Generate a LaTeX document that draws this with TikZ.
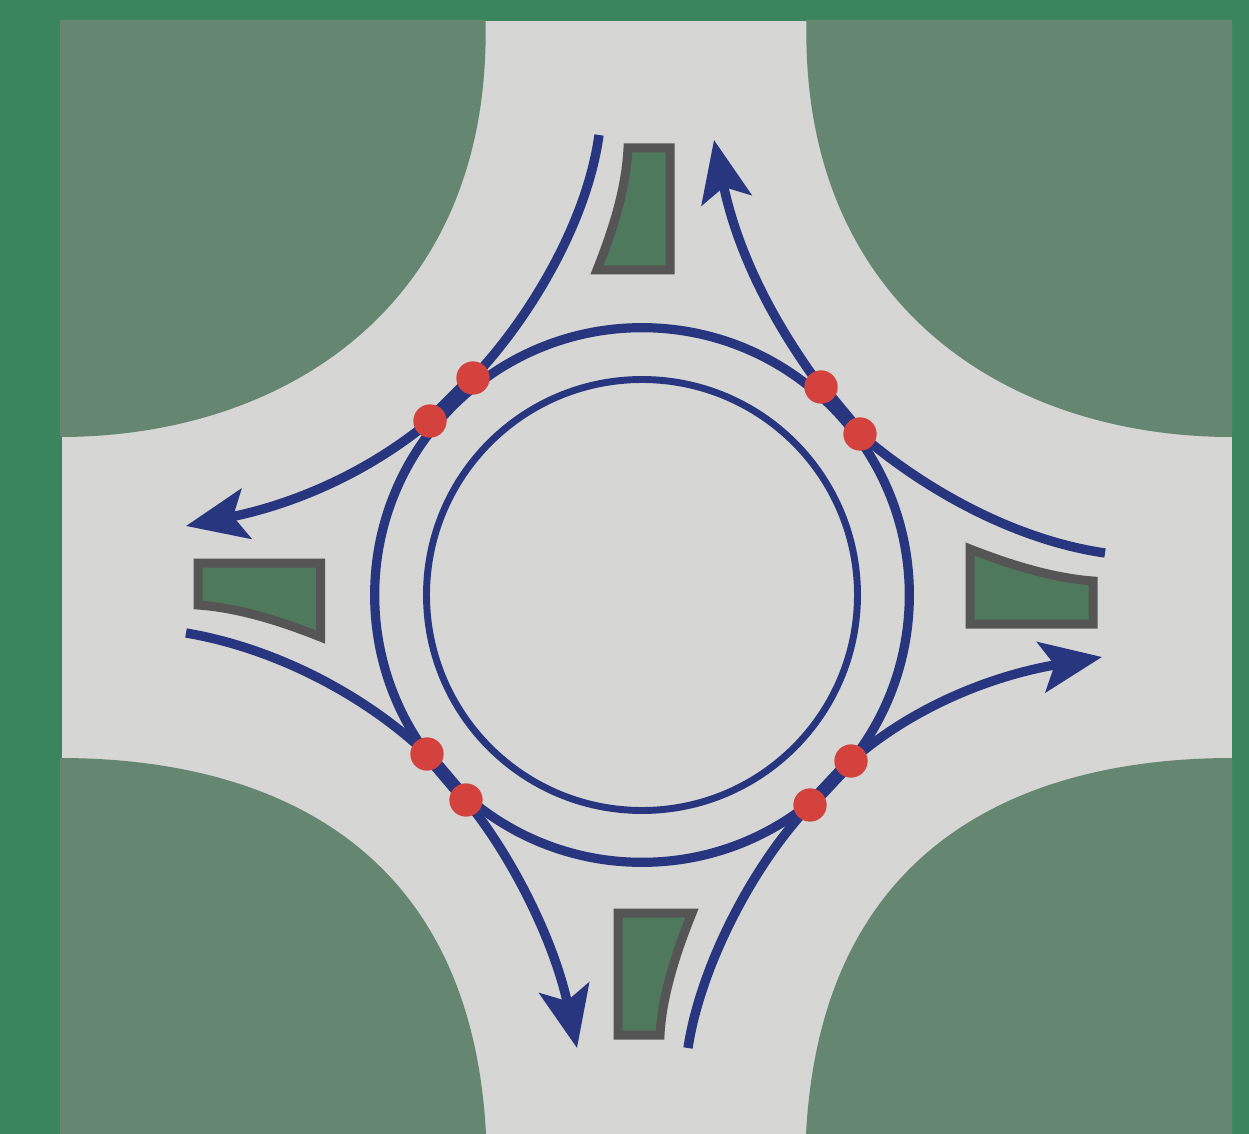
\documentclass[tikz,border=0pt]{standalone}
\usetikzlibrary{arrows.meta}
\definecolor{bggreen}{HTML}{3A855D}
\definecolor{roadgrey}{HTML}{D6D6D4}
\definecolor{cornergreen}{HTML}{658772}
\definecolor{islandgreen}{HTML}{4F795C}
\definecolor{islandedge}{HTML}{555555}
\definecolor{laneblue}{HTML}{27367F}
\definecolor{dotred}{HTML}{D4423E}
\tikzset{
  px/.style={x=0.75pt,y=-0.75pt},
  corner/.style={fill=cornergreen,draw=none},
  island/.style={fill=islandgreen,draw=islandedge,line width=6.75pt,miter limit=10,line join=miter},
  lane/.style={draw=laneblue,line width=7pt},
  band/.style={draw=laneblue,line width=10pt},
  exitlane/.style={lane,-{Stealth[length=46pt,width=38pt,inset=10pt]}},
  outerring/.style={draw=laneblue,fill=none,line width=6.9pt},
  innerring/.style={draw=laneblue,fill=none,line width=5.2pt},
  dot/.style={circle,fill=dotred,draw=none,minimum size=25pt,inner sep=0pt}
}
\begin{document}
\begin{tikzpicture}[px]
\useasboundingbox (0,0) rectangle (1249,1134);
\fill[bggreen] (0,0) rectangle (1249,1134);
\fill[roadgrey] (62,21) rectangle (1232,1134);
% corners
\fill[corner] (60,20) -- (485.5,20) .. controls (492,305) and (285,437) .. (60,437) -- cycle;
\fill[corner] (1232,20) -- (806.5,20) .. controls (800,305) and (1007,437) .. (1232,437) -- cycle;
\fill[corner] (60,1134) -- (486,1134) .. controls (470,830) and (250,758) .. (60,758) -- cycle;
\fill[corner] (1232,1134) -- (806,1134) .. controls (822,830) and (1042,758) .. (1232,758) -- cycle;
% rings
\node[circle,outerring,minimum size=401pt,inner sep=0pt] (outer) at (642,595) {};
\node[circle,innerring,minimum size=323.25pt,inner sep=0pt] (inner) at (642,595) {};
% named points
\coordinate (p1) at (473,378);
\coordinate (p2) at (430,421);
\coordinate (p3) at (821,387);
\coordinate (p4) at (860,434);
\coordinate (p5) at (427,754);
\coordinate (p6) at (466,800);
\coordinate (p7) at (851,761);
\coordinate (p8) at (810,805);
\coordinate (inT) at (599,135);
\coordinate (inR) at (1105,553);
\coordinate (inB) at (688,1048);
\coordinate (inL) at (186,633);
\coordinate (outT) at (714,140);
\coordinate (outR) at (1102,657);
\coordinate (outB) at (577,1048);
\coordinate (outL) at (186,526);
% overlap bands
\draw[band] (p1) -- (p2);
\draw[band] (p3) -- (p4);
\draw[band] (p5) -- (p6);
\draw[band] (p7) -- (p8);
% entries
\draw[lane] (inT) .. controls (587,222) and (530,318) .. (p1);
\draw[lane] (inR) .. controls (1015,540) and (925,490) .. (p4);
\draw[lane] (inB) .. controls (700,968) and (752,866) .. (p8);
\draw[lane] (inL) .. controls (275,648) and (365,695) .. (p5);
% exits
\draw[exitlane] (p3) .. controls (775,325) and (738,255) .. (outT);
\draw[exitlane] (p2) .. controls (365,475) and (290,505) .. (outL);
\draw[exitlane] (p6) .. controls (515,860) and (555,945) .. (outB);
\draw[exitlane] (p7) .. controls (915,705) and (995,675) .. (outR);
% dots on top
\node[dot] (d1) at (p1) {};
\node[dot] (d2) at (p2) {};
\node[dot] (d3) at (p3) {};
\node[dot] (d4) at (p4) {};
\node[dot] (d5) at (p5) {};
\node[dot] (d6) at (p6) {};
\node[dot] (d7) at (p7) {};
\node[dot] (d8) at (p8) {};
% islands
\draw[island] (628,148) -- (670,148) -- (670,270) -- (597,270) .. controls (612,232) and (626,190) .. cycle;
\draw[island] (970,549) .. controls (1008,564) and (1052,578) .. (1093,581) -- (1093,624) -- (970,624) -- cycle;
\draw[island] (618,913) -- (692,913) .. controls (677,950) and (662,995) .. (660,1035) -- (618,1035) -- cycle;
\draw[island] (198,563) -- (320.5,563) -- (320.5,637) .. controls (283,622) and (240,608) .. (198,605) -- cycle;
\end{tikzpicture}
\end{document}
